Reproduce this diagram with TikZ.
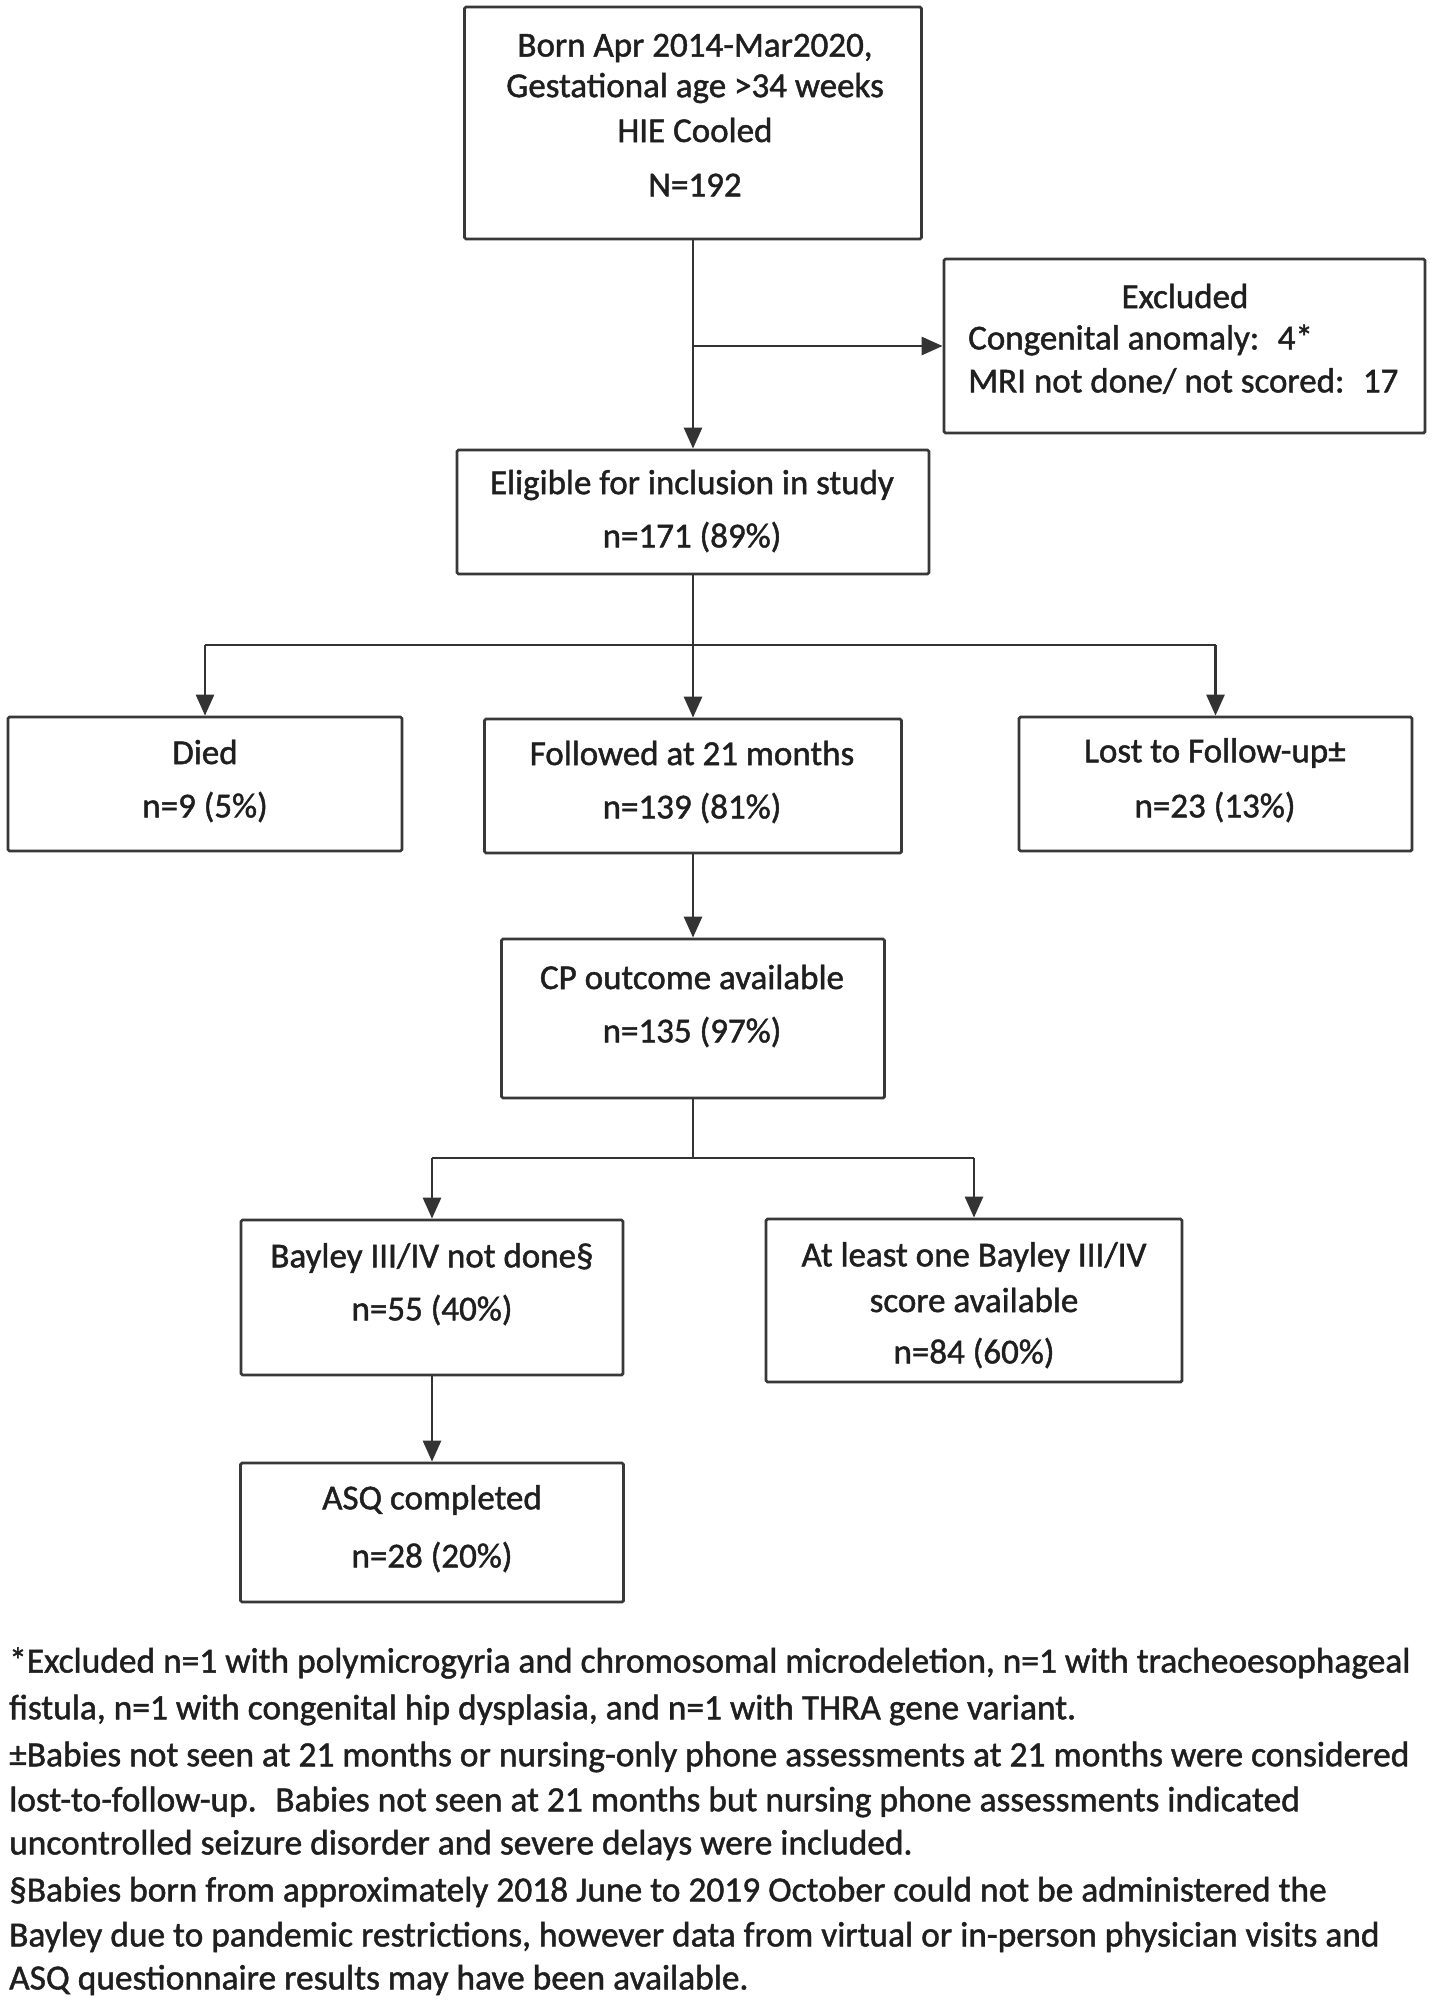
\documentclass[tikz,border=0pt]{standalone}
\usepackage{fontspec}
\setmainfont[FakeBold=1.3]{Carlito}
\usetikzlibrary{arrows.meta}
\begin{document}
\begin{tikzpicture}[x=1pt,y=-1pt,
  box/.style={draw=black!78, line width=2.8pt, rounded corners=1.5pt, inner sep=0pt},
  txt/.style={font=\fontsize{35}{41}\selectfont, text=black!88, inner sep=0pt},
  note/.style={font=\fontsize{35.4}{41}\selectfont, text=black!88, inner sep=0pt, anchor=west},
  conn/.style={draw=black!80, line width=2.8pt},
  arr/.style={conn, -{Triangle[length=21pt,width=18pt]}}]
\useasboundingbox (0,0) rectangle (1437,2002);
\fill[white] (0,0) rectangle (1437,2002);

% boxes
\node[box, minimum width=457pt, minimum height=232pt] (top) at (693,123) {};
\node[box, minimum width=481pt, minimum height=174pt] (excl) at (1184.5,346) {};
\node[box, minimum width=472pt, minimum height=124pt] (elig) at (693,512) {};
\node[box, minimum width=394pt, minimum height=134pt] (died) at (205,784) {};
\node[box, minimum width=417pt, minimum height=134pt] (foll) at (693,786) {};
\node[box, minimum width=393pt, minimum height=134pt] (lost) at (1215.5,784) {};
\node[box, minimum width=383pt, minimum height=159pt] (cp) at (693,1018.5) {};
\node[box, minimum width=382pt, minimum height=155pt] (bay) at (432,1297.5) {};
\node[box, minimum width=416pt, minimum height=163pt] (atl) at (974,1300.5) {};
\node[box, minimum width=383pt, minimum height=139pt] (asq) at (432,1532.5) {};

% box texts
\node[txt] (t1) at (695,48) {Born Apr 2014-Mar2020,};
\node[txt] (t2) at (695,88) {Gestational age >34 weeks};
\node[txt] (t3) at (695,130) {HIE Cooled};
\node[txt] (t4) at (695,185) {N=192};

\node[txt] (e1) at (1185,296) {Excluded};
\node[txt, anchor=west] (e2) at (968,340) {Congenital anomaly:~ 4*};
\node[txt, anchor=west] (e3) at (968,381) {MRI not done/ not scored:~ 17};

\node[txt] (g1) at (692,485) {Eligible for inclusion in study};
\node[txt] (g2) at (692,537) {n=171 (89\%)};

\node[txt] (d1) at (205,752) {Died};
\node[txt] (d2) at (205,807) {n=9 (5\%)};

\node[txt] (f1) at (692,753) {Followed at 21 months};
\node[txt] (f2) at (692,808) {n=139 (81\%)};

\node[txt] (l1) at (1215,753) {Lost to Follow-up±};
\node[txt] (l2) at (1215,807) {n=23 (13\%)};

\node[txt] (c1) at (692,977) {CP outcome available};
\node[txt] (c2) at (692,1032) {n=135 (97\%)};

\node[txt] (b1) at (432,1258) {Bayley III/IV not done§};
\node[txt] (b2) at (432,1310) {n=55 (40\%)};

\node[txt] (a1) at (974,1257) {At least one Bayley III/IV};
\node[txt] (a2) at (974,1300) {score available};
\node[txt] (a3) at (974,1353) {n=84 (60\%)};

\node[txt] (q1) at (432,1500) {ASQ completed};
\node[txt] (q2) at (432,1557) {n=28 (20\%)};

% connectors
\coordinate (j1) at (693,346);
\coordinate (j2) at (693,645);
\coordinate (j3) at (693,1158);
\draw[arr] (top.south) -- (elig.north);
\draw[arr] (j1) -- (excl.west);
\draw[conn] (elig.south) -- (j2);
\draw[arr] (j2) -- (foll.north);
\draw[conn] (died.north |- j2) -- (lost.north |- j2);
\draw[arr] (died.north |- j2) -- (died.north);
\draw[arr] (lost.north |- j2) -- (lost.north);
\draw[arr] (foll.south) -- (cp.north);
\draw[conn] (cp.south) -- (j3);
\draw[conn] (bay.north |- j3) -- (atl.north |- j3);
\draw[arr] (bay.north |- j3) -- (bay.north);
\draw[arr] (atl.north |- j3) -- (atl.north);
\draw[arr] (bay.south) -- (asq.north);

% footnotes
\node[note] (n1) at (9,1663) {*Excluded n=1 with polymicrogyria and chromosomal microdeletion, n=1 with tracheoesophageal};
\node[note] (n2) at (9,1710) {fistula, n=1 with congenital hip dysplasia, and n=1 with THRA gene variant.};
\node[note] (n3) at (9,1757) {±Babies not seen at 21 months or nursing-only phone assessments at 21 months were considered};
\node[note] (n4) at (9,1802) {lost-to-follow-up.~ Babies not seen at 21 months but nursing phone assessments indicated};
\node[note] (n5) at (9,1845) {uncontrolled seizure disorder and severe delays were included.};
\node[note] (n6) at (9,1892) {§Babies born from approximately 2018 June to 2019 October could not be administered the};
\node[note] (n7) at (9,1937) {Bayley due to pandemic restrictions, however data from virtual or in-person physician visits and};
\node[note] (n8) at (9,1980) {ASQ questionnaire results may have been available.};
\end{tikzpicture}
\end{document}
